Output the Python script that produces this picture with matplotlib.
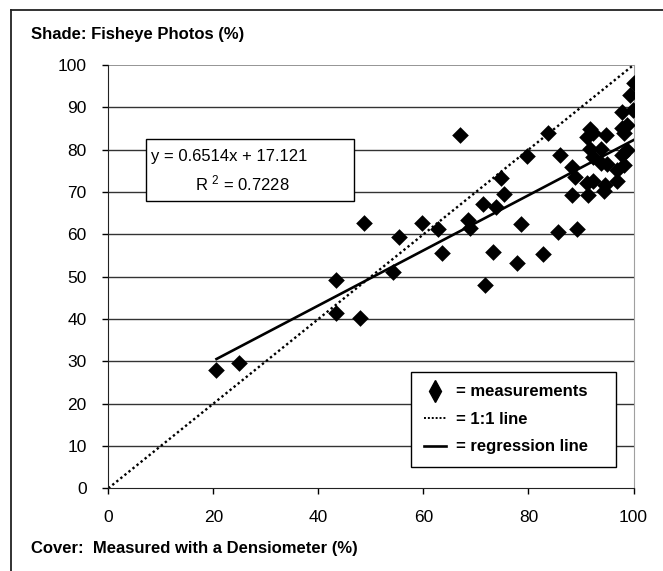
import numpy as np
import matplotlib
matplotlib.use('Agg')
import matplotlib.pyplot as plt
from matplotlib.lines import Line2D
from matplotlib.patches import Rectangle

plt.rcParams['font.family'] = ['Liberation Sans', 'DejaVu Sans']

# densiometer cover (%) vs fisheye shade (%)
cover = [20.6, 24.8, 43.4, 43.4, 47.9, 48.6, 54.2, 55.4, 59.8, 62.8,
         63.5, 67.0, 68.4, 68.9, 71.3, 71.7, 73.3, 73.9, 74.8, 75.3,
         77.9, 78.5, 79.7, 82.8, 83.8, 85.6, 86.0, 88.2, 88.9, 88.2,
         89.3, 91.1, 91.7, 92.2, 91.7, 92.2, 91.1, 91.4, 92.3, 93.9,
         93.9, 94.8, 94.9, 94.6, 94.4, 96.8, 96.9, 97.8, 98.2, 98.7,
         97.8, 98.7, 98.2, 97.9, 99.9, 99.3, 100.0]
shade = [27.9, 29.6, 49.2, 41.3, 40.2, 62.6, 51.2, 59.3, 62.6, 61.3,
         55.7, 83.5, 63.5, 61.4, 67.2, 48.0, 55.9, 66.4, 73.2, 69.5,
         53.2, 62.4, 78.5, 55.4, 84.0, 60.6, 78.7, 75.8, 73.6, 69.3,
         61.3, 82.9, 84.8, 83.9, 80.1, 78.3, 72.1, 69.3, 72.7, 80.1,
         76.8, 83.5, 76.7, 71.7, 70.3, 72.7, 75.2, 78.7, 76.4, 79.9,
         85.0, 85.8, 83.9, 89.0, 89.4, 92.9, 95.7]
slope = 0.6514
intercept = 17.121
r2 = 0.7228
ticks = [0, 20, 40, 60, 80, 100]
yticks = [0, 10, 20, 30, 40, 50, 60, 70, 80, 90, 100]

W, H = 663, 571
X0, X1, Y0, Y1 = 108.3, 633.5, 488.3, 65.0
fig = plt.figure(figsize=(W / 100, H / 100), dpi=100)
ax = fig.add_axes([X0 / W, 1 - Y0 / H, (X1 - X0) / W, (Y0 - Y1) / H])


def axf(px, py):
    # pixel position -> axes fraction
    return (px - X0) / (X1 - X0), (Y0 - py) / (Y0 - Y1)


ax.set_xlim(0, 100)
ax.set_ylim(0, 100)
ax.set_xticks(ticks)
ax.set_yticks(yticks)
ax.tick_params(direction='out', length=4.5, width=1, labelsize=12.5, color='black')
ax.tick_params(axis='x', pad=11)
ax.tick_params(axis='y', pad=11)
for yv in yticks[1:-1]:
    ax.axhline(yv, color='#333333', lw=1, zorder=0)
ax.axhline(100, color='#8c8c8c', lw=1.3, zorder=0)
ax.spines['top'].set_visible(False)
ax.spines['right'].set_color('#a0a0a0')
ax.spines['left'].set_color('#222222')
ax.spines['bottom'].set_color('#222222')

ax.plot([0, 100], [0, 100], color='black', ls=(0, (1, 1.2)), lw=1.7, zorder=2)
xr = np.array([min(cover), max(cover)])
ax.plot(xr, slope * xr + intercept, color='black', lw=1.9, zorder=3)
ax.scatter(cover, shade, marker='D', s=72, color='black', zorder=4, linewidths=0)

# equation box
bx0, by1 = axf(145.7, 139.3)
bx1, by0 = axf(354.3, 200.7)
ax.add_patch(Rectangle((bx0, by0), bx1 - bx0, by1 - by0, transform=ax.transAxes,
                       fc='white', ec='black', lw=1, zorder=5))
tx, ty = axf(150.7, 157)
ax.text(tx, ty, f'y = {slope}x + {intercept}', transform=ax.transAxes,
        fontsize=12, va='center', ha='left', zorder=6)
tx, ty = axf(195, 183)
ax.text(tx, ty, f'R $\\mathregular{{^2}}$ = {r2}', transform=ax.transAxes,
        fontsize=12, va='center', ha='left', zorder=6)

handles = [Line2D([], [], marker='d', color='black', ls='none', markersize=11),
           Line2D([], [], color='black', ls=(0, (1, 1)), lw=1.4),
           Line2D([], [], color='black', lw=1.9)]
lx0, ly1 = axf(411, 372)
lx1, ly0 = axf(616, 472)
leg = ax.legend(handles, ['= measurements', '= 1:1 line', '= regression line'],
                loc='upper left', bbox_to_anchor=(lx0, ly0, lx1 - lx0, ly1 - ly0), mode='expand',
                borderaxespad=0, frameon=True, fancybox=False, edgecolor='black', framealpha=1,
                prop={'weight': 'bold', 'size': 12}, handlelength=1.35,
                labelspacing=0.75, borderpad=0.75, handletextpad=0.6)
leg.get_frame().set_linewidth(1)
leg.set_zorder(6)

fig.text(31 / W, 1 - 35 / H, 'Shade: Fisheye Photos (%)', fontsize=12, weight='bold', va='center')
fig.text(31 / W, 1 - 549 / H, 'Cover:  Measured with a Densiometer (%)', fontsize=12, weight='bold', va='center')

# outer frame
fig.add_artist(Line2D([11 / W, 11 / W], [0, 1 - 10 / H], color='#222222', lw=1.3))
fig.add_artist(Line2D([11 / W, 1], [1 - 10 / H, 1 - 10 / H], color='#222222', lw=1.3))

fig.savefig('out.png', dpi=100)
